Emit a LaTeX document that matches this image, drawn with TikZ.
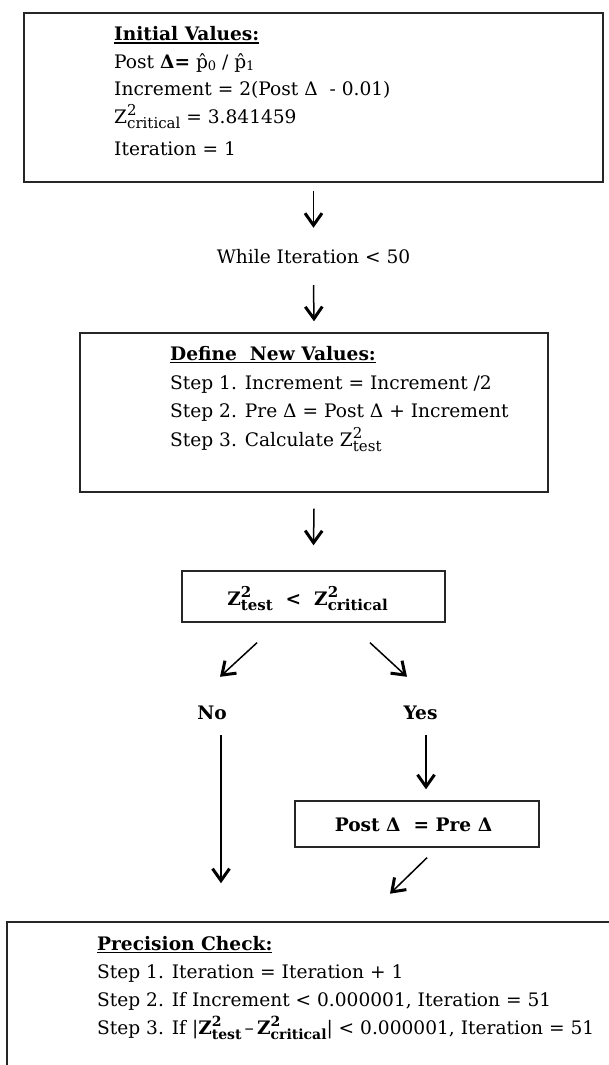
\documentclass[tikz,border=0pt]{standalone}
\usepackage{fontspec}
\setmainfont{DejaVu Serif}
\usetikzlibrary{arrows.meta,calc}
\newcommand{\scr}{\fontsize{15}{15}\selectfont}
\newcommand{\zsq}[1]{Z\makebox[0pt][l]{\raisebox{8pt}{\scr 2}}\raisebox{-5pt}{\scr #1}}
\newcommand{\zsqs}[1]{Z\makebox[0pt][l]{\raisebox{8pt}{\fontsize{14}{14}\selectfont 2}}\raisebox{-5pt}{\fontsize{14}{14}\selectfont #1}}
\newcommand{\hdr}[1]{\setbox0=\hbox{\bfseries #1}\rlap{\rule[-3.2pt]{\wd0}{1.3pt}}\box0}
\newcommand{\phat}[1]{p̂\raisebox{-2pt}{\fontsize{13}{13}\selectfont #1}}
\begin{document}
\begin{tikzpicture}[x=1pt,y=-1pt,
  box/.style={draw=black!85, line width=1.4pt, inner sep=0pt},
  txt/.style={anchor=base west, inner sep=0pt, font=\fontsize{18.6}{23}\selectfont},
  ctr/.style={anchor=base, inner sep=0pt, text height=14pt, text depth=5pt, font=\fontsize{18.6}{23}\selectfont},
  arr/.style={line width=1.5pt, -{Straight Barb[length=12pt,width=17pt,line width=3pt]}}]
\useasboundingbox (0,0) rectangle (609,1065);
\clip (0,0) rectangle (609,1065);

% initial values
\node[box, minimum width=579pt, minimum height=169pt] (init) at (313.5,97.5) {};
\node[txt] (i1) at (114,40.5) {\hdr{Initial Values:}};
\node[txt] (i2) at (114,68) {Post \textbf{Δ=} \phat{0} / \phat{1}};
\node[txt] (i3) at (114,95) {Increment = 2(Post Δ\ \ - 0.01)};
\node[txt] (i4) at (114,123) {\zsq{critical} = 3.841459};
\node[txt] (i5) at (114,155) {Iteration = 1};

\node[ctr] (while) at (313.5,263) {While Iteration < 50};

% define new values
\node[box, minimum width=468pt, minimum height=159pt] (def) at (314,412.5) {};
\node[txt] (d1) at (170,360) {\hdr{Define\ \ New Values:}};
\node[txt] (d2) at (170,389) {Step 1. Increment = Increment /2};
\node[txt] (d3) at (170,417) {Step 2. Pre Δ = Post Δ + Increment};
\node[txt] (d4) at (170,446) {Step 3. Calculate \zsq{test}};

% comparison
\node[box, minimum width=263pt, minimum height=51pt] (cmp) at (313.5,596.5) {};
\node[ctr] (cmpt) at (307.5,605) {\bfseries \zsq{test}\ \ <\ \ \zsq{critical}};

\node[ctr] (no) at (212,719) {\bfseries No};
\node[ctr] (yes) at (420.5,719) {\bfseries Yes};

% post = pre
\node[box, minimum width=244pt, minimum height=46pt] (post) at (417,824) {};
\node[ctr] (postt) at (413.5,831.5) {\bfseries Post Δ\ \ = Pre Δ};

% precision check
\node[box, minimum width=613pt, minimum height=178pt] (prec) at (313.5,1011) {};
\node[txt] (p1) at (97,950) {\hdr{Precision Check:}};
\node[txt] (p2) at (97,978) {Step 1. Iteration = Iteration + 1};
\node[txt] (p3) at (97,1006) {Step 2. If Increment < 0.000001, Iteration = 51};
\node[txt] (p4) at (97,1034) {Step 3. If |\textbf{\zsqs{test}}\,–\,\textbf{\zsqs{critical}}| < 0.000001, Iteration = 51};

% connectors
\draw[arr] ($(init.south)+(0,8)$) -- ($(while.north)+(0,-21)$);
\draw[arr] ($(while.south)+(0,17)$) -- ($(def.north)+(0,-11)$);
\draw[arr] ($(def.south)+(0,16)$) -- ($(cmp.north)+(0,-25)$);
\draw[arr] ($(cmp.south)+(-56.5,20)$) -- ($(no.north)+(8,-28)$);
\draw[arr] ($(cmp.south)+(56.5,20)$) -- ($(yes.north)+(-13.5,-28)$);
\draw[arr] ($(no.south)+(9,11)$) -- ($(no.south)+(9,159)$);
\draw[arr] ($(yes.south)+(5.5,11)$) -- ($(post.north)+(9,-11)$);
\draw[arr] ($(post.south)+(10,10)$) -- ($(post.south)+(-27,46)$);
\end{tikzpicture}
\end{document}
